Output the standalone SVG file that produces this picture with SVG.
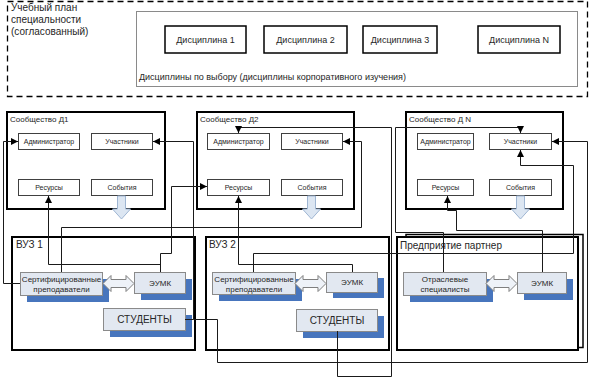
<svg xmlns="http://www.w3.org/2000/svg" width="590" height="379" viewBox="0 0 590 379">
<defs>
<marker id="ar" viewBox="0 0 8 8" refX="8" refY="4" markerWidth="7" markerHeight="7" markerUnits="userSpaceOnUse" orient="auto">
<path d="M0,0 L8,4 L0,8 Z" fill="#000"/>
</marker>
</defs>
<style>
text{font-family:"Liberation Sans",Arial,sans-serif;fill:#262626}
.frame{fill:#fff;stroke:#000;stroke-width:2}
.it{fill:#fff;stroke:#404040;stroke-width:1}
.it-t{font-size:7px;text-anchor:middle}
.bx{fill:#e2e8f1;stroke:#8a8a8a;stroke-width:1}
.sh{fill:#4775bd}
.bx-t{font-size:8px;text-anchor:middle}
.st-t{font-size:10px;text-anchor:middle}
.blk{fill:#dce6f2;stroke:#9fb6d3;stroke-width:1}
.dbl{fill:#eef2f8;stroke:#7f7f7f;stroke-width:1}
.c{fill:none;stroke:#1a1a1a;stroke-width:1}
.ttl{font-size:8px}
.org{font-size:10px}
.disc{fill:#fff;stroke:#000;stroke-width:1.5}
.disc-t{font-size:9px;text-anchor:middle}
</style>
<rect width="590" height="379" fill="#fff"/>

<g id="plan">
<rect x="7.5" y="1.5" width="580" height="95" fill="none" stroke="#000" stroke-width="1.3" stroke-dasharray="6,4"/>
<text x="11" y="11" font-size="10">Учебный план</text>
<text x="11" y="23" font-size="10">специальности</text>
<text x="11" y="35" font-size="10">(согласованный)</text>
</g>
<g id="elective">
<rect x="136.5" y="11.5" width="441" height="75" fill="#fff" stroke="#8a8a8a" stroke-width="1"/>
<text x="139" y="80" font-size="9">Дисциплины по выбору (дисциплины корпоративного изучения)</text>
</g>
<g id="disc1"><rect class="disc" x="165" y="26" width="81" height="27"/><text class="disc-t" x="205.5" y="43">Дисциплина 1</text></g>
<g id="disc2"><rect class="disc" x="264" y="26" width="83" height="27"/><text class="disc-t" x="305.5" y="43">Дисциплина 2</text></g>
<g id="disc3"><rect class="disc" x="363" y="26" width="74" height="27"/><text class="disc-t" x="400" y="43">Дисциплина 3</text></g>
<g id="discN"><rect class="disc" x="478" y="26" width="82" height="27"/><text class="disc-t" x="519" y="43">Дисциплина N</text></g>

<g id="comm1">
<rect class="frame" x="7" y="112" width="158" height="97"/>
<text class="ttl" x="10" y="122">Сообщество Д1</text>
<rect class="it" x="18.5" y="133.5" width="61" height="16"/><text class="it-t" x="49" y="144">Администратор</text>
<rect class="it" x="91.5" y="133.5" width="61" height="16"/><text class="it-t" x="122" y="144">Участники</text>
<rect class="it" x="18.5" y="179.5" width="61" height="16"/><text class="it-t" x="49" y="190">Ресурсы</text>
<rect class="it" x="91.5" y="179.5" width="61" height="16"/><text class="it-t" x="122" y="190">События</text>
<path class="blk" d="M117.5,196 L125.5,196 L125.5,209 L130.5,209 L121.5,219 L112.5,209 L117.5,209 Z"/>
</g>
<g id="comm2">
<rect class="frame" x="197" y="112" width="157" height="97"/>
<text class="ttl" x="200" y="122">Сообщество Д2</text>
<rect class="it" x="207.5" y="133.5" width="62" height="16"/><text class="it-t" x="238.5" y="144">Администратор</text>
<rect class="it" x="281.5" y="133.5" width="61" height="16"/><text class="it-t" x="312" y="144">Участники</text>
<rect class="it" x="207.5" y="179.5" width="62" height="16"/><text class="it-t" x="238.5" y="190">Ресурсы</text>
<rect class="it" x="281.5" y="179.5" width="61" height="16"/><text class="it-t" x="312" y="190">События</text>
<path class="blk" d="M307.5,196 L315.5,196 L315.5,209 L320.5,209 L311.5,219 L302.5,209 L307.5,209 Z"/>
</g>
<g id="commN">
<rect class="frame" x="406" y="112" width="157" height="97"/>
<text class="ttl" x="409" y="122">Сообщество Д N</text>
<rect class="it" x="417.5" y="133.5" width="56" height="16"/><text class="it-t" x="445.5" y="144">Администратор</text>
<rect class="it" x="489.5" y="133.5" width="62" height="16"/><text class="it-t" x="520.5" y="144">Участники</text>
<rect class="it" x="417.5" y="179.5" width="56" height="16"/><text class="it-t" x="445.5" y="190">Ресурсы</text>
<rect class="it" x="489.5" y="179.5" width="62" height="16"/><text class="it-t" x="520.5" y="190">События</text>
<path class="blk" d="M516.5,196 L524.5,196 L524.5,209 L529.5,209 L520.5,219 L511.5,209 L516.5,209 Z"/>
</g>

<g id="vuz1">
<rect class="frame" x="12" y="237" width="183" height="113"/>
<text class="org" x="16" y="248">ВУЗ 1</text>
<rect class="sh" x="27" y="279" width="82" height="23"/>
<rect class="bx" x="20.5" y="272.5" width="82" height="23"/>
<text class="bx-t" x="61.5" y="282">Сертифицированные</text>
<text class="bx-t" x="61.5" y="292">преподаватели</text>
<rect class="sh" x="141" y="279" width="51" height="21"/>
<rect class="bx" x="134.5" y="272.5" width="51" height="21"/>
<text class="bx-t" x="160" y="286">ЭУМК</text>
<rect class="sh" x="110" y="315" width="82" height="22"/>
<rect class="bx" x="103.5" y="308.5" width="82" height="22"/>
<text class="st-t" x="144.5" y="323">СТУДЕНТЫ</text>
<path class="dbl" d="M103,283.5 L111,275.5 L111,279.5 L126,279.5 L126,275.5 L134,283.5 L126,291.5 L126,287.5 L111,287.5 L111,291.5 Z"/>
</g>
<g id="vuz2">
<rect class="frame" x="206" y="237" width="183" height="113"/>
<text class="org" x="209" y="248">ВУЗ 2</text>
<rect class="sh" x="219" y="279" width="83" height="22"/>
<rect class="bx" x="212.5" y="272.5" width="83" height="22"/>
<text class="bx-t" x="254" y="282">Сертифицированные</text>
<text class="bx-t" x="254" y="292">преподаватели</text>
<rect class="sh" x="333" y="278" width="51" height="20"/>
<rect class="bx" x="326.5" y="272.5" width="51" height="20"/>
<text class="bx-t" x="352" y="285">ЭУМК</text>
<rect class="sh" x="303" y="316" width="81" height="22"/>
<rect class="bx" x="296.5" y="309.5" width="81" height="22"/>
<text class="st-t" x="337" y="324">СТУДЕНТЫ</text>
<path class="dbl" d="M295,283.5 L303,275.5 L303,279.5 L318,279.5 L318,275.5 L326,283.5 L318,291.5 L318,287.5 L303,287.5 L303,291.5 Z"/>
</g>
<g id="partner">
<rect x="406" y="234.5" width="177" height="113" fill="#fff" stroke="#000" stroke-width="1.5"/>
<rect class="frame" x="397" y="237" width="181" height="113"/>
<text class="org" x="400" y="249">Предприятие партнер</text>
<rect class="sh" x="410" y="279" width="83" height="23"/>
<rect class="bx" x="403.5" y="272.5" width="83" height="23"/>
<text class="bx-t" x="445" y="282">Отраслевые</text>
<text class="bx-t" x="445" y="292">специалисты</text>
<rect class="sh" x="524" y="279" width="49" height="21"/>
<rect class="bx" x="517.5" y="272.5" width="49" height="21"/>
<text class="bx-t" x="542" y="286">ЭУМК</text>
<path class="dbl" d="M486,283.5 L494,275.5 L494,279.5 L509,279.5 L509,275.5 L517,283.5 L509,291.5 L509,287.5 L494,287.5 L494,291.5 Z"/>
</g>

<g id="connectors">
<polyline class="c" points="20,283.5 3.5,283.5 3.5,141.5 18,141.5" marker-end="url(#ar)"/>
<polyline class="c" points="160.5,272 160.5,253.5 171.5,253.5 171.5,186.5 207,186.5" marker-end="url(#ar)"/>
<polyline class="c" points="160.5,264.5 48.5,264.5 48.5,196" marker-end="url(#ar)"/>
<polyline class="c" points="61.5,272 61.5,227.5 361.5,227.5 361.5,141.5 343,141.5" marker-end="url(#ar)"/>
<polyline class="c" points="185,319.5 193.5,319.5 193.5,141.5 153,141.5" marker-end="url(#ar)"/>
<polyline class="c" points="193.5,319.5 217.5,319.5 217.5,362.5 587.5,362.5 587.5,141.5 552,141.5" marker-end="url(#ar)"/>
<polyline class="c" points="352.5,272 352.5,264.5 238.5,264.5 238.5,196" marker-end="url(#ar)"/>
<polyline class="c" points="253.5,272 253.5,253.5 573.5,253.5 573.5,165.5 520.5,165.5 520.5,150" marker-end="url(#ar)"/>
<polyline class="c" points="337.5,331 337.5,376.5 391.5,376.5 391.5,127.5 238.5,127.5 238.5,133" marker-end="url(#ar)"/>
<polyline class="c" points="443.5,272 443.5,232.5 395.5,232.5 395.5,127.5 520.5,127.5 520.5,133" marker-end="url(#ar)"/>
<polyline class="c" points="542.5,272 542.5,230.5 456.5,230.5 456.5,210.5 447.5,210.5 447.5,196" marker-end="url(#ar)"/>
</g>
</svg>
